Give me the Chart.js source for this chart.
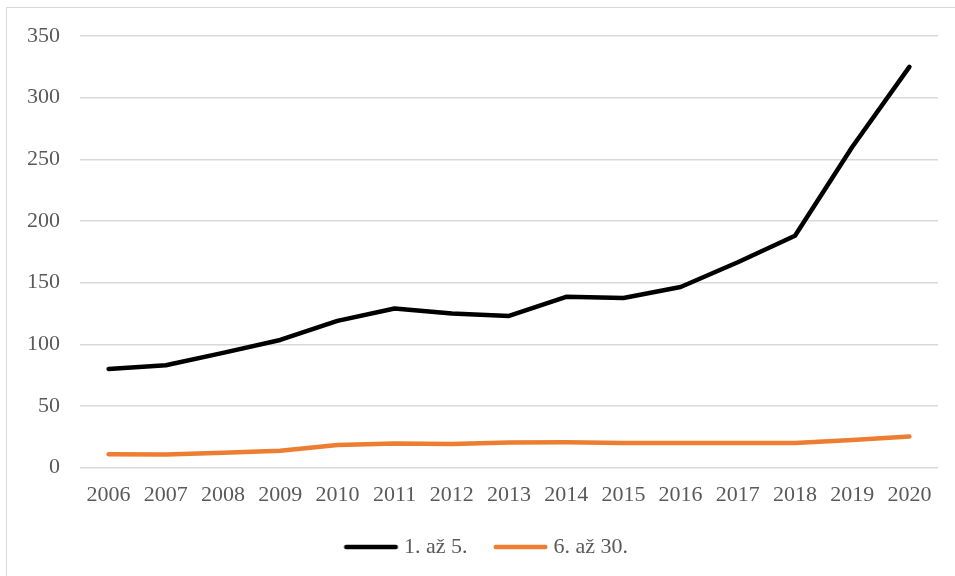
<!DOCTYPE html>
<html>
<head>
<meta charset="utf-8">
<script src="https://cdn.jsdelivr.net/npm/chart.js@4"></script>
<style>
  html, body { margin: 0; padding: 0; background: #fff; }
  #wrap { position: relative; width: 955px; height: 576px; overflow: hidden; }
  #frame { position: absolute; left: 6px; top: 7px; width: 1000px; height: 600px; border: 1px solid #d9d9d9; }
  #wrap canvas { position: absolute; left: 0; top: 0; }
</style>
</head>
<body>
<div id="wrap">
  <div id="frame"></div>
  <canvas id="graf" width="955" height="576"></canvas>
</div>
<script>
// data
const roky = ['2006','2007','2008','2009','2010','2011','2012','2013','2014','2015','2016','2017','2018','2019','2020'];
const prvniAzPate = [80, 83, 93, 103.5, 119, 129, 125, 123, 138.5, 137.5, 146.5, 166.5, 188, 260, 325];
const sesteAzTricate = [10.8, 10.7, 12, 13.6, 18.4, 19.6, 19.2, 20.3, 20.5, 20, 20, 20, 20, 22.3, 25.2];
const osaY = [0, 50, 100, 150, 200, 250, 300, 350];

const pismo = 'Liberation Serif, Times New Roman, serif';
const sedy = '#595959';

// legend marker: short line, sits close to its text like in Excel
function znacka(barva) {
    const c = document.createElement('canvas');
    c.width = 70; c.height = 8;
    const g = c.getContext('2d');
    g.strokeStyle = barva;
    g.lineWidth = 4.5;
    g.lineCap = 'round';
    g.beginPath();
    g.moveTo(14.75, 4);
    g.lineTo(64.25, 4);
    g.stroke();
    return c;
}

// move the legend a bit (Excel centers it on a wider frame)
const posunLegendy = {
    id: 'posunLegendy',
    afterLayout(chart) {
        const l = chart.legend;
        l.left += 15; l.right += 15;
        l.top -= 8; l.bottom -= 8;
    }
};

const ctx = document.getElementById('graf').getContext('2d');
new Chart(ctx, {
    type: 'line',
    data: {
        labels: roky,
        datasets: [{
            label: '1. až 5.',
            data: prvniAzPate,
            borderColor: '#000000',
            backgroundColor: '#000000',
            borderWidth: 4.5,
            borderCapStyle: 'round',
            borderJoinStyle: 'round',
            pointRadius: 0,
            pointStyle: znacka('#000000'),
            tension: 0
        }, {
            label: '6. až 30.',
            data: sesteAzTricate,
            borderColor: '#ed7d31',
            backgroundColor: '#ed7d31',
            borderWidth: 4.5,
            borderCapStyle: 'round',
            borderJoinStyle: 'round',
            pointRadius: 0,
            pointStyle: znacka('#ed7d31'),
            tension: 0
        }]
    },
    options: {
        responsive: false,
        animation: false,
        layout: { padding: { left: 0, right: 17, top: 36, bottom: 0 } },
        plugins: {
            tooltip: { enabled: false },
            legend: {
                position: 'bottom',
                labels: {
                    usePointStyle: true,
                    pointStyleWidth: 53,
                    boxHeight: 8,
                    color: sedy,
                    padding: 22,
                    font: { family: pismo, size: 22 }
                }
            }
        },
        scales: {
            x: {
                offset: true,
                grid: { display: false, drawTicks: false },
                border: { display: false },
                ticks: { color: sedy, padding: 14, maxRotation: 0, font: { family: pismo, size: 22 } }
            },
            y: {
                min: 0,
                max: 350,
                afterFit: s => { s.width = 80; },
                afterBuildTicks: s => { s.ticks = osaY.map(v => ({ value: v })); },
                grid: { color: '#d9d9d9', lineWidth: 1.5, drawTicks: false },
                border: { display: false },
                ticks: { color: sedy, padding: 20, font: { family: pismo, size: 22 } }
            }
        }
    },
    plugins: [posunLegendy]
});
</script>
</body>
</html>
